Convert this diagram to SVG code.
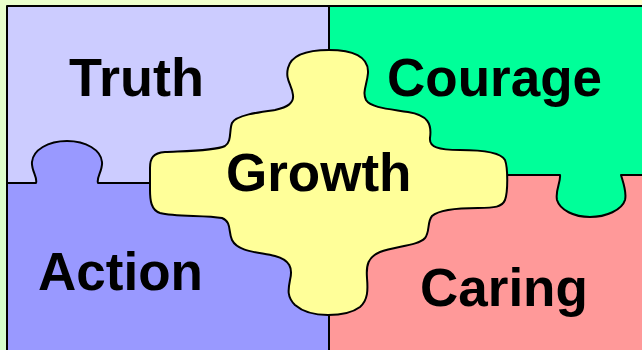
<svg xmlns="http://www.w3.org/2000/svg" width="642" height="350" viewBox="0 0 642 350">
  <defs>
    <linearGradient id="bg" x1="0" y1="1" x2="1" y2="0">
      <stop offset="0" stop-color="#D4FFCC"/>
      <stop offset="1" stop-color="#FFFFCC"/>
    </linearGradient>
    <style>
      .piece { stroke: #000; stroke-width: 2; stroke-linejoin: round; }
      .label { font-family: "Liberation Sans", Arial, sans-serif; font-weight: bold; font-size: 53px; fill: #000; }
    </style>
  </defs>

  <!-- backdrop -->
  <rect x="0" y="0" width="642" height="350" fill="url(#bg)"/>

  <!-- upper-left piece -->
  <g id="truth">
    <rect class="piece" x="7" y="6" width="322" height="177" fill="#CCCCFF"/>
    <text class="label" x="69" y="96" style="font-size:54px">Truth</text>
  </g>

  <!-- lower-right piece -->
  <g id="caring">
    <rect class="piece" x="329" y="175" width="317" height="179" fill="#FF9999"/>
    <text class="label" x="420" y="306">Caring</text>
  </g>

  <!-- lower-left piece with its tab reaching up -->
  <g id="action">
    <path class="piece" fill="#9999FF"
          d="M 7,354 L 7,183 L 36,183
             C 38,178 31,170 32,162
             C 33,150 48,141 67,141
             C 86,141 101,150 102,162
             C 103,170 96,178 98,183
             L 329,183 L 329,354 Z"/>
    <text class="label" x="38" y="290">Action</text>
  </g>

  <!-- upper-right piece with its tab hanging down -->
  <g id="courage">
    <path class="piece" fill="#00FF99"
          d="M 329,6 L 646,6 L 646,175 L 621,175
             C 623,182 627,192 625,200
             C 622,210 606,217 590,217
             C 574,217 560,210 557,200
             C 555,190 561,182 560,175
             L 329,175 Z"/>
    <text class="label" x="387" y="96">Courage</text>
  </g>

  <!-- centre piece -->
  <g id="growth">
    <path class="piece" fill="#FFFF99"
          d="M 329,50
             C 352,50 369,56 368,73
             C 367,85 362,92 366,100
             C 371,108 390,109 408,112
             C 428,115 432,124 430,138
             C 429,147 438,150 460,150
             C 478,150 500,151 505,160
             C 508,168 508,192 505,200
             C 502,207 495,208 478,208
             C 460,208 440,209 432,216
             C 427,222 430,232 425,238
             C 418,246 395,246 380,252
             C 368,257 366,265 367,278
             C 368,290 368,300 360,307
             C 352,313 340,315 328,315
             C 315,315 303,312 295,305
             C 287,297 288,290 290,280
             C 293,268 290,260 275,256
             C 258,252 238,252 232,240
             C 228,232 232,222 222,218
             C 205,215 175,217 160,213
             C 151,210 150,200 150,190
             L 150,168
             C 150,158 153,153 165,152
             C 185,151 215,151 225,146
             C 232,142 229,130 232,123
             C 236,115 260,112 275,110
             C 288,107 294,103 293,95
             C 292,85 285,80 288,68
             C 291,56 305,50 329,50 Z"/>
    <text class="label" x="226" y="191">Growth</text>
  </g>
</svg>
